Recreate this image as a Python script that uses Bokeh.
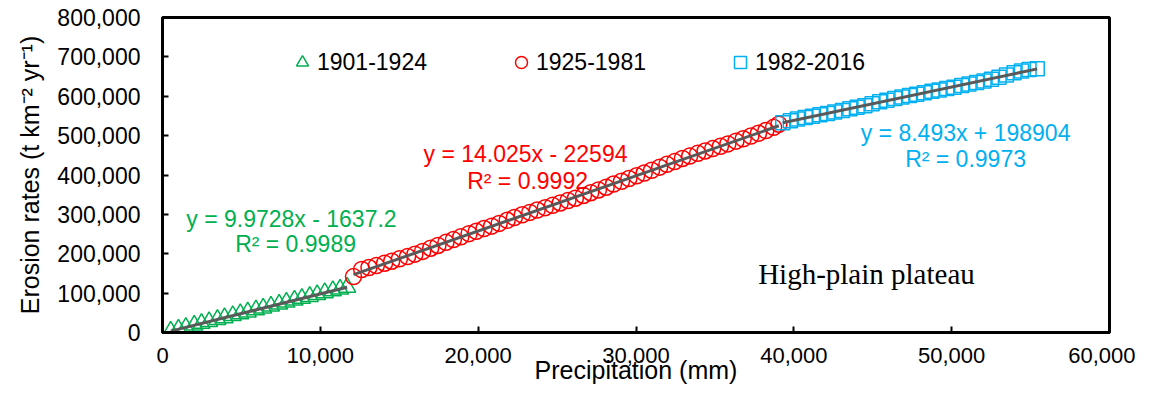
import numpy as np
from bokeh.plotting import figure
from bokeh.models import Range1d, NumeralTickFormatter, FixedTicker, Label, Legend, LegendItem
from bokeh.embed import file_html
from bokeh.resources import INLINE

# ---------------- data ----------------
series_names = ["1901-1924", "1925-1981", "1982-2016"]

prec_1901_1924 = [520, 1010, 1480, 2010, 2470, 2950, 3480, 3930, 4450, 4930, 5400, 5920,
                  6380, 6870, 7390, 7850, 8360, 8830, 9330, 9800, 10280, 10790, 11250, 11700]
eros_1901_1924 = [3500, 8500, 13000, 18500, 23000, 27500, 33000, 37500, 43000, 47500, 52000, 57500,
                  62000, 67000, 72000, 77000, 82000, 86500, 91500, 96000, 101000, 106000, 110000, 115000]

prec_1925_1981 = [12100, 12620, 13080, 13550, 14070, 14520, 15010, 15530, 15990, 16480, 16990, 17450,
                  17960, 18430, 18900, 19420, 19880, 20370, 20850, 21330, 21840, 22290, 22790, 23270,
                  23740, 24250, 24710, 25200, 25690, 26160, 26670, 27130, 27620, 28110, 28580, 29080,
                  29550, 30040, 30520, 30990, 31500, 31960, 32450, 32940, 33400, 33910, 34380, 34860,
                  35350, 35820, 36330, 36790, 37280, 37760, 38230, 38720, 39050]
eros_1925_1981 = [142000, 160000, 165000, 170000, 176000, 181000, 187000, 193000, 199000, 206000, 214000, 221000,
                  229000, 236000, 243000, 251000, 257000, 264000, 270000, 277000, 285000, 292000, 299000, 305000,
                  311000, 317000, 323000, 329000, 335000, 341000, 348000, 355000, 362000, 369000, 377000, 384000,
                  391000, 398000, 405000, 412000, 420000, 427000, 434000, 442000, 448000, 455000, 461000, 467000,
                  473000, 479000, 486000, 492000, 499000, 506000, 513000, 521000, 529000]

prec_1982_2016 = [39300, 39780, 40230, 40720, 41180, 41650, 42130, 42590, 43080, 43550, 44010, 44500,
                  44960, 45440, 45900, 46390, 46850, 47330, 47790, 48270, 48750, 49210, 49690, 50150,
                  50640, 51100, 51580, 52050, 52520, 53000, 53470, 53950, 54420, 54900, 55420]
eros_1982_2016 = [533000, 538000, 542000, 546000, 549000, 553000, 556000, 560000, 564000, 568000, 572000, 576000,
                  581000, 586000, 590000, 594000, 598000, 602000, 605000, 609000, 613000, 616000, 620000, 623000,
                  627000, 631000, 635000, 639000, 643000, 648000, 654000, 660000, 664000, 668000, 670000]

eq_texts = ["y = 9.9728x - 1637.2", "y = 14.025x - 22594", "y = 8.493x + 198904"]
r2_texts = ["R² = 0.9989", "R² = 0.9992", "R² = 0.9973"]

x_ticks = [0, 10000, 20000, 30000, 40000, 50000, 60000]
y_ticks = [0, 100000, 200000, 300000, 400000, 500000, 600000, 700000, 800000]

x_title = "Precipitation (mm)"
y_title = "Erosion rates (t km\u207b\u00b2 yr\u207b\u00b9)"
panel_note = "High-plain plateau"

# ---------------- styles / layout ----------------
colors = ["#00B050", "#FF0000", "#00B0F0"]
markers = ["triangle", "circle", "square"]
marker_sizes = [17, 16, 14]
trend_color = "#595959"
SANS = "Liberation Sans"
# label anchor positions (data units): equation line, R² line
eq_pos = [(8170, 289500), (23000, 454600), (50880, 507900)]
r2_pos = [(8430, 223500), (23130, 386000), (50880, 441900)]
note_pos = (44600, 149800)

p = figure(frame_width=947, frame_height=315,
           min_border_left=162, min_border_right=26, min_border_top=17, min_border_bottom=53,
           x_range=Range1d(x_ticks[0], x_ticks[-1]), y_range=Range1d(y_ticks[0], y_ticks[-1]),
           output_backend="svg", toolbar_location=None)
p.background_fill_color = "white"
p.border_fill_color = "white"
p.outline_line_color = "black"
p.outline_line_width = 3
p.xgrid.visible = False
p.ygrid.visible = False

xs_all = [prec_1901_1924, prec_1925_1981, prec_1982_2016]
ys_all = [eros_1901_1924, eros_1925_1981, eros_1982_2016]

items = []
for xs, ys, c, m, s, name in zip(xs_all, ys_all, colors, markers, marker_sizes, series_names):
    r = p.scatter(xs, ys, marker=m, size=s, fill_color=None, line_color=c, line_width=1.5)
    items.append(LegendItem(label=name, renderers=[r]))

for xs, ys in zip(xs_all, ys_all):
    k, b = np.polyfit(np.array(xs, float), np.array(ys, float), 1)
    x0, x1 = min(xs), max(xs)
    p.line([x0, x1], [k * x0 + b, k * x1 + b], line_color=trend_color, line_width=3)

for (ex, ey), (rx, ry), t1, t2, c in zip(eq_pos, r2_pos, eq_texts, r2_texts, colors):
    p.add_layout(Label(x=ex, y=ey, text=t1, text_color=c, text_font=SANS, text_font_size="23px",
                       text_align="center", text_baseline="middle"))
    p.add_layout(Label(x=rx, y=ry, text=t2, text_color=c, text_font=SANS, text_font_size="23px",
                       text_align="center", text_baseline="middle"))

p.add_layout(Label(x=note_pos[0], y=note_pos[1], text=panel_note, text_color="black",
                   text_font="Liberation Serif", text_font_size="29px",
                   text_align="center", text_baseline="middle"))

legend = Legend(items=items, orientation="horizontal", location=(125, 255),
                glyph_width=30, glyph_height=30, label_standoff=0, label_width=110, spacing=79,
                padding=0, margin=0, border_line_color=None, background_fill_alpha=0,
                label_text_font=SANS, label_text_font_size="23px", label_text_color="black",
                label_height=30)
p.add_layout(legend)

for ax in (p.xaxis[0], p.yaxis[0]):
    ax.axis_line_width = 3
    ax.axis_line_color = "black"
    ax.major_tick_in = 6
    ax.major_tick_out = 0
    ax.major_tick_line_width = 2
    ax.major_tick_line_color = "black"
    ax.minor_tick_line_color = None
    ax.major_label_text_font = SANS
    ax.major_label_text_color = "black"
    ax.axis_label_text_font = SANS
    ax.axis_label_text_font_style = "normal"
    ax.axis_label_text_color = "black"
    ax.axis_label_text_font_size = "25px"
    ax.formatter = NumeralTickFormatter(format="0,0")

p.xaxis.ticker = FixedTicker(ticks=x_ticks)
p.yaxis.ticker = FixedTicker(ticks=y_ticks)
p.xaxis.major_label_text_font_size = "22px"
p.yaxis.major_label_text_font_size = "23px"
p.xaxis.major_label_standoff = 15
p.yaxis.major_label_standoff = 22
p.xaxis.axis_label = x_title
p.yaxis.axis_label = y_title
p.xaxis.axis_label_standoff = -10
p.yaxis.axis_label_standoff = 10

open("out.html", "w").write(file_html(p, INLINE))
